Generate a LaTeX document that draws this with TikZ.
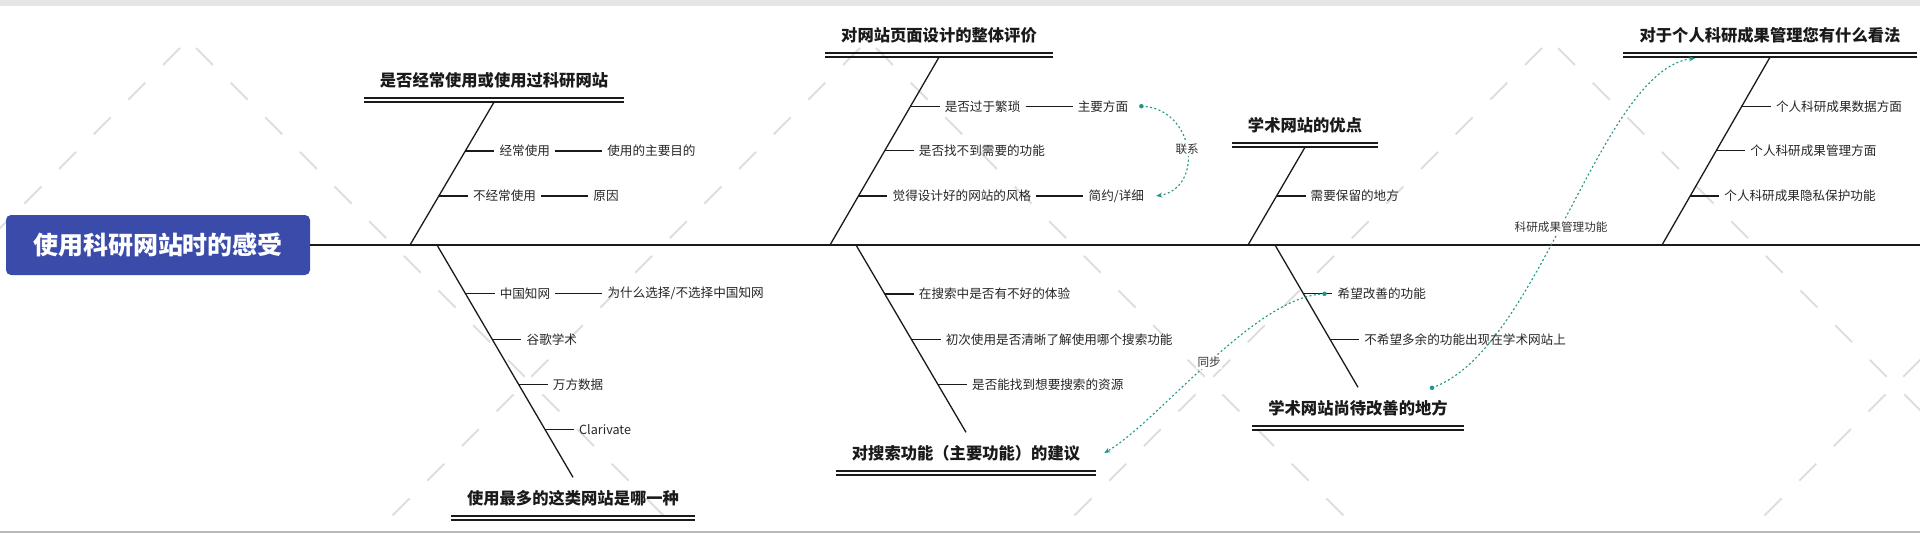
\documentclass[tikz,border=0pt]{standalone}
\usepackage{fontspec}
\setmainfont{Noto Sans CJK SC}
\usetikzlibrary{calc,arrows.meta,positioning}
\definecolor{rootblue}{RGB}{58,75,170}
\definecolor{linkteal}{RGB}{32,150,136}
\definecolor{wmgrey}{RGB}{222,222,222}
\definecolor{bandgrey}{RGB}{230,230,230}
\definecolor{inkc}{RGB}{26,26,26}
\begin{document}
\begin{tikzpicture}[x=1pt,y=-1pt,
  rootbox/.style={rectangle, rounded corners=5pt, fill=rootblue, text=white,
    font=\fontsize{25}{30}\selectfont\bfseries, minimum width=304pt, minimum height=60pt, inner sep=0pt},
  titlebox/.style={font=\fontsize{16.3}{20}\selectfont\bfseries, text=inkc,
    minimum height=35pt, inner xsep=16pt, inner ysep=0pt},
  subtext/.style={font=\fontsize{12.6}{15}\selectfont, text=black!85, inner xsep=5pt, inner ysep=2pt},
  bone/.style={draw=inkc, line width=1.3pt},
  spine/.style={draw=inkc, line width=1.7pt},
  twig/.style={draw=inkc, line width=1.3pt},
  uline/.style={draw=inkc, line width=1.8pt},
  link/.style={draw=linkteal, line width=1.1pt, dash pattern=on 2pt off 2.4pt,
    -{Stealth[length=6pt,width=5pt]}},
  linklabel/.style={font=\fontsize{11.6}{14}\selectfont, text=black!80, fill=white, inner sep=1.5pt},
  linkdot/.style={circle, fill=linkteal, inner sep=0pt, minimum size=4.5pt},
  wmline/.style={draw=wmgrey, line width=2pt, dash pattern=on 24pt off 25pt},
]
\useasboundingbox (0,0) rectangle (1920,533);
\fill[white] (0,0) rectangle (1920,533);
% watermark
\begin{scope}
  \clip (0,6) rectangle (1920,531);
  \foreach \a in {188,868,1550,2240} {
    \draw[wmline] ({\a-8},48) -- ({\a-8-620},668);
    \draw[wmline] ({\a+8},48) -- ({\a+8+620},668);
  }
\end{scope}
\fill[bandgrey] (0,0) rectangle (1920,5.5);
\draw[gray!55, line width=1.5pt] (0,532) -- (1920,532);

% root and spine
\node[rootbox] (root) at (158,245) {使用科研网站时的感受};
\coordinate (spineend) at (1920,245);
\draw[spine] (root.east) -- (spineend);

% spine anchor points
\coordinate (s1) at (410,245);
\coordinate (s2) at (437,245);
\coordinate (s3) at (830,245);
\coordinate (s4) at (856,245);
\coordinate (s5) at (1248,245);
\coordinate (s6) at (1275,245);
\coordinate (s7) at (1662,245);

% titles
\node[titlebox] (t1) at (494,80) {是否经常使用或使用过科研网站};
\node[titlebox] (t2) at (573,498) {使用最多的这类网站是哪一种};
\node[titlebox] (t3) at (939,35) {对网站页面设计的整体评价};
\node[titlebox] (t4) at (966,453) {对搜索功能（主要功能）的建议};
\node[titlebox] (t5) at (1305,125) {学术网站的优点};
\node[titlebox] (t6) at (1358,408) {学术网站尚待改善的地方};
\node[titlebox] (t7) at (1770,35) {对于个人科研成果管理您有什么看法};
\foreach \t in {t1,t2,t3,t4,t5,t6,t7} {
  \draw[uline] (\t.south west) -- (\t.south east);
  \draw[uline] ([yshift=-4pt]\t.south west) -- ([yshift=-4pt]\t.south east);
}

% bones
\coordinate (b1) at ([yshift=-4.5pt]t1.south);
\coordinate (b3) at ([yshift=-4.5pt]t3.south);
\coordinate (b5) at ([yshift=-4.5pt]t5.south);
\coordinate (b7) at ([yshift=-4.5pt]t7.south);
\coordinate (b2) at ([yshift=3pt]t2.north);
\coordinate (b4) at ([yshift=3pt]t4.north);
\coordinate (b6) at ([yshift=3pt]t6.north);
\draw[bone] (b1) -- (s1);
\draw[bone] (b3) -- (s3);
\draw[bone] (b5) -- (s5);
\draw[bone] (b7) -- (s7);
\draw[bone] (s2) -- (b2);
\draw[bone] (s4) -- (b4);
\draw[bone] (s6) -- (b6);

% branch 1
\coordinate (p11) at ($(b1)!0.341!(s1)$);
\coordinate (p12) at ($(b1)!0.657!(s1)$);
\node[subtext, anchor=west] (n11) at ([xshift=29pt]p11) {经常使用};
\node[subtext, right=47pt of n11] (n12) {使用的主要目的};
\node[subtext, anchor=west] (n13) at ([xshift=29pt]p12) {不经常使用};
\node[subtext, right=47pt of n13] (n14) {原因};
\draw[twig] (p11) -- (n11.west);
\draw[twig] (n11) -- (n12);
\draw[twig] (p12) -- (n13.west);
\draw[twig] (n13) -- (n14);

% branch 2
\coordinate (p21) at ($(s2)!0.210!(b2)$);
\coordinate (p22) at ($(s2)!0.408!(b2)$);
\coordinate (p23) at ($(s2)!0.601!(b2)$);
\coordinate (p24) at ($(s2)!0.794!(b2)$);
\node[subtext, anchor=west] (n21) at ([xshift=29pt]p21) {中国知网};
\node[subtext, right=47pt of n21] (n22) {为什么选择/不选择中国知网};
\node[subtext, anchor=west] (n23) at ([xshift=29pt]p22) {谷歌学术};
\node[subtext, anchor=west] (n24) at ([xshift=29pt]p23) {万方数据};
\node[subtext, anchor=west] (n25) at ([xshift=29pt]p24) {Clarivate};
\draw[twig] (p21) -- (n21.west);
\draw[twig] (n21) -- (n22);
\draw[twig] (p22) -- (n23.west);
\draw[twig] (p23) -- (n24.west);
\draw[twig] (p24) -- (n25.west);

% branch 3
\coordinate (p31) at ($(b3)!0.261!(s3)$);
\coordinate (p32) at ($(b3)!0.498!(s3)$);
\coordinate (p33) at ($(b3)!0.739!(s3)$);
\node[subtext, anchor=west] (n31) at ([xshift=29pt]p31) {是否过于繁琐};
\node[subtext, right=47pt of n31] (n32) {主要方面};
\node[subtext, anchor=west] (n33) at ([xshift=29pt]p32) {是否找不到需要的功能};
\node[subtext, anchor=west] (n34) at ([xshift=29pt]p33) {觉得设计好的网站的风格};
\node[subtext, right=47pt of n34] (n35) {简约/详细};
\draw[twig] (p31) -- (n31.west);
\draw[twig] (n31) -- (n32);
\draw[twig] (p32) -- (n33.west);
\draw[twig] (p33) -- (n34.west);
\draw[twig] (n34) -- (n35);

% branch 4
\coordinate (p41) at ($(s4)!0.261!(b4)$);
\coordinate (p42) at ($(s4)!0.505!(b4)$);
\coordinate (p43) at ($(s4)!0.745!(b4)$);
\node[subtext, anchor=west] (n41) at ([xshift=29pt]p41) {在搜索中是否有不好的体验};
\node[subtext, anchor=west] (n42) at ([xshift=29pt]p42) {初次使用是否清晰了解使用哪个搜索功能};
\node[subtext, anchor=west] (n43) at ([xshift=29pt]p43) {是否能找到想要搜索的资源};
\draw[twig] (p41) -- (n41.west);
\draw[twig] (p42) -- (n42.west);
\draw[twig] (p43) -- (n43.west);

% branch 5
\coordinate (p51) at ($(b5)!0.5!(s5)$);
\node[subtext, anchor=west] (n51) at ([xshift=29pt]p51) {需要保留的地方};
\draw[twig] (p51) -- (n51.west);

% branch 6
\coordinate (p61) at ($(s6)!0.343!(b6)$);
\coordinate (p62) at ($(s6)!0.664!(b6)$);
\node[subtext, anchor=west] (n61) at ([xshift=29pt]p61) {希望改善的功能};
\node[subtext, anchor=west] (n62) at ([xshift=29pt]p62) {不希望多余的功能出现在学术网站上};
\draw[twig] (p61) -- (n61.west);
\draw[twig] (p62) -- (n62.west);

% branch 7
\coordinate (p71) at ($(b7)!0.261!(s7)$);
\coordinate (p72) at ($(b7)!0.498!(s7)$);
\coordinate (p73) at ($(b7)!0.739!(s7)$);
\node[subtext, anchor=west] (n71) at ([xshift=29pt]p71) {个人科研成果数据方面};
\node[subtext, anchor=west] (n72) at ([xshift=29pt]p72) {个人科研成果管理方面};
\node[subtext, anchor=west] (n73) at ([xshift=29pt]p73) {个人科研成果隐私保护功能};
\draw[twig] (p71) -- (n71.west);
\draw[twig] (p72) -- (n72.west);
\draw[twig] (p73) -- (n73.west);

% relationship links
\coordinate (l1s) at ([xshift=8pt]n32.east);
\coordinate (l1e) at ([xshift=7pt]n35.east);
\draw[link] (l1s) .. controls (1195,108) and (1205,188) .. (l1e)
  node[linklabel, pos=0.5] (lab1) {联系};
\node[linkdot] (d1) at (l1s) {};

\coordinate (l2s) at ([xshift=-8pt]n61.west);
\coordinate (l2e) at ([xshift=8pt]t4.east);
\draw[link] (l2s) .. controls (1255,296) and (1160,420) .. (l2e)
  node[linklabel, pos=0.5] (lab2) {同步};
\node[linkdot] (d2) at (l2s) {};

\coordinate (l3s) at ([xshift=74pt,yshift=2.5pt]t6.north);
\coordinate (l3e) at ([xshift=-75pt,yshift=-5.5pt]t7.south);
\draw[link] (l3s) .. controls (1540,350) and (1600,70) .. (l3e)
  node[linklabel, pos=0.47] (lab3) {科研成果管理功能};
\node[linkdot] (d3) at (l3s) {};
\end{tikzpicture}
\end{document}
